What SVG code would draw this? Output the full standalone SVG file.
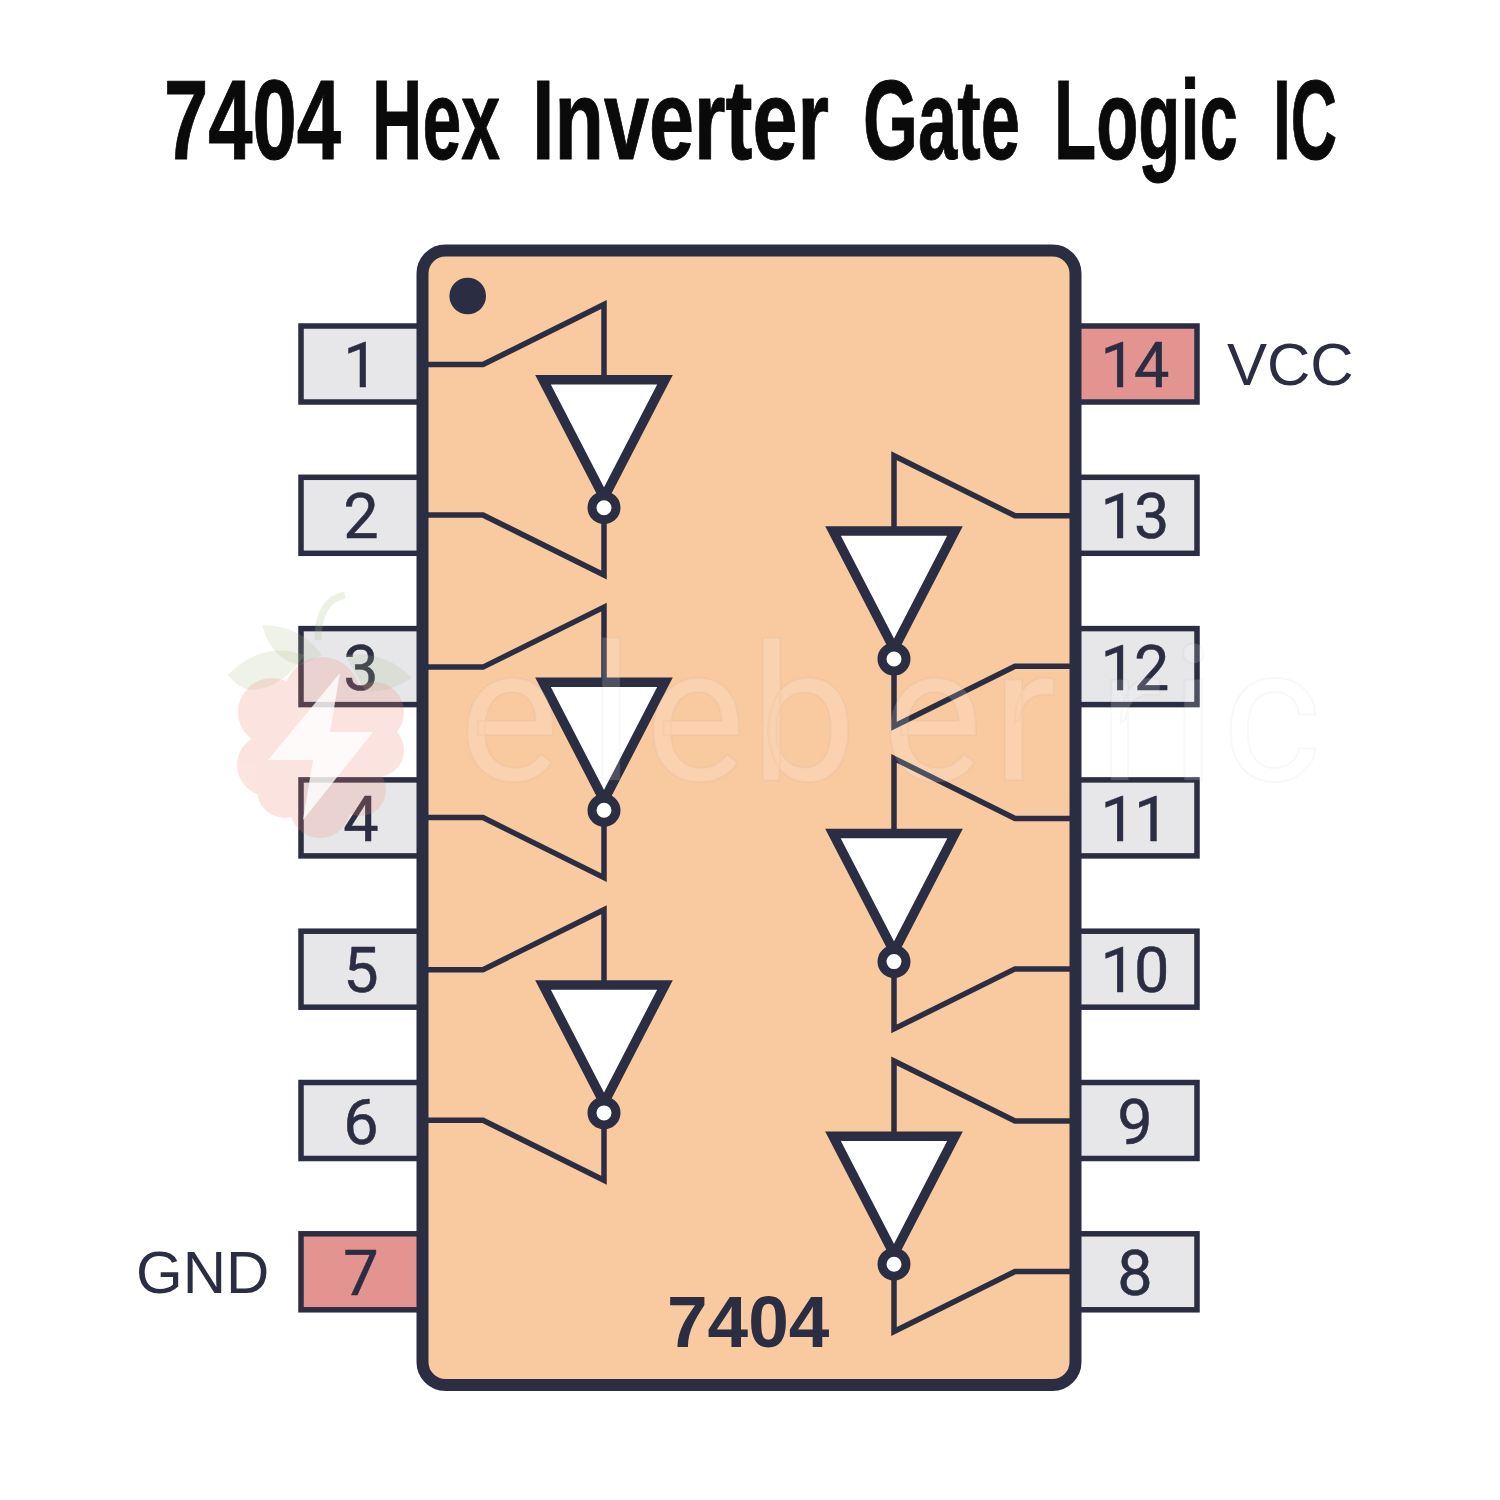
<svg xmlns="http://www.w3.org/2000/svg" width="1500" height="1500" viewBox="0 0 1500 1500">
<style>
.s{stroke:#2b2e42;stroke-width:5.5}
.pin{fill:#e7e7ea}
.pwr{fill:#e49490}
.n{font-family:Roboto,"Liberation Sans",Arial,sans-serif;font-size:63px;fill:#2b2e42;stroke:#2b2e42;stroke-width:.5;text-anchor:middle}
.w{letter-spacing:-2px}
.l{font-family:"Liberation Sans",Arial,sans-serif;font-size:60px;fill:#2b2e42}
.wire{fill:none;stroke:#2b2e42;stroke-width:5.5;stroke-linejoin:miter;stroke-miterlimit:8}
.wm{font-family:Roboto,"Liberation Sans",Arial,sans-serif;font-weight:400;font-size:190px;fill:#fff;fill-opacity:.17;stroke:#8a8a8a;stroke-opacity:.06;stroke-width:2}
</style>
<defs>
<g id="inv">
<polygon points="-61,0 61,0 0,118" fill="#fff" stroke="#2b2e42" stroke-width="9.5" stroke-miterlimit="6"/>
<circle cx="0" cy="128" r="12" fill="#fff" stroke="#2b2e42" stroke-width="9"/>
</g>
</defs>
<rect width="1500" height="1500" fill="#fff"/>
<text id="title" y="159" font-family="'Liberation Sans',Arial,sans-serif" font-weight="700" font-size="114" fill="#0a0a0a" stroke="#0a0a0a" stroke-width="1" stroke-linejoin="round"><tspan x="164" textLength="177" lengthAdjust="spacingAndGlyphs">7404</tspan> <tspan x="372" textLength="128" lengthAdjust="spacingAndGlyphs">Hex</tspan> <tspan x="532" textLength="297" lengthAdjust="spacingAndGlyphs">Inverter</tspan> <tspan x="863" textLength="157" lengthAdjust="spacingAndGlyphs">Gate</tspan> <tspan x="1054" textLength="184" lengthAdjust="spacingAndGlyphs">Logic</tspan> <tspan x="1273" textLength="64" lengthAdjust="spacingAndGlyphs">IC</tspan></text>

<g id="pin1"><rect class="s pin" x="301" y="326" width="120" height="76"/><text class="n" x="361" y="387">1</text></g>
<g id="pin2"><rect class="s pin" x="301" y="477.3" width="120" height="76"/><text class="n" x="361" y="538.3">2</text></g>
<g id="pin3"><rect class="s pin" x="301" y="628.6" width="120" height="76"/><text class="n" x="361" y="689.6">3</text></g>
<g id="pin4"><rect class="s pin" x="301" y="779.9" width="120" height="76"/><text class="n" x="361" y="840.9">4</text></g>
<g id="pin5"><rect class="s pin" x="301" y="931.2" width="120" height="76"/><text class="n" x="361" y="992.2">5</text></g>
<g id="pin6"><rect class="s pin" x="301" y="1082.5" width="120" height="76"/><text class="n" x="361" y="1143.5">6</text></g>
<g id="pin7"><rect class="s pwr" x="301" y="1233.8" width="120" height="76"/><text class="n" x="361" y="1294.8">7</text></g>
<g id="pin14"><rect class="s pwr" x="1078" y="326" width="119" height="76"/><text class="n w" x="1134" y="387">14</text></g>
<g id="pin13"><rect class="s pin" x="1078" y="477.3" width="119" height="76"/><text class="n w" x="1134" y="538.3">13</text></g>
<g id="pin12"><rect class="s pin" x="1078" y="628.6" width="119" height="76"/><text class="n w" x="1134" y="689.6">12</text></g>
<g id="pin11"><rect class="s pin" x="1078" y="779.9" width="119" height="76"/><text class="n w" x="1134" y="840.9">11</text></g>
<g id="pin10"><rect class="s pin" x="1078" y="931.2" width="119" height="76"/><text class="n w" x="1134" y="992.2">10</text></g>
<g id="pin9"><rect class="s pin" x="1078" y="1082.5" width="119" height="76"/><text class="n" x="1135" y="1143.5">9</text></g>
<g id="pin8"><rect class="s pin" x="1078" y="1233.8" width="119" height="76"/><text class="n" x="1135" y="1294.8">8</text></g>

<g id="chip">
<rect x="422.5" y="250.5" width="653" height="1134.5" rx="23" ry="23" fill="#f9c9a0" stroke="#2b2e42" stroke-width="12"/>
<circle cx="467.7" cy="296" r="18.3" fill="#2b2e42"/>
<text x="667" y="1347" font-family="'Liberation Sans',Arial,sans-serif" font-weight="700" font-size="73" fill="#2b2e42">7404</text>
</g>
<text id="vcc" class="l" x="1227" y="385">VCC</text>
<text id="gnd" class="l" x="136" y="1293">GND</text>

<g id="connectors">
<polyline class="wire" points="428,364.5 483,364.5 604,304.5 604,377"/>
<polyline class="wire" points="428,515 483,515 604,575 604,520"/>
<polyline class="wire" points="428,667.1 483,667.1 604,607.1 604,679.6"/>
<polyline class="wire" points="428,817.6 483,817.6 604,877.6 604,822.6"/>
<polyline class="wire" points="428,969.7 483,969.7 604,909.7 604,982.2"/>
<polyline class="wire" points="428,1120.2 483,1120.2 604,1180.2 604,1125.2"/>
<polyline class="wire" points="1070,515.8 1015,515.8 894,455.8 894,528.3"/>
<polyline class="wire" points="1070,666.3 1015,666.3 894,726.3 894,671.3"/>
<polyline class="wire" points="1070,818.4 1015,818.4 894,758.4 894,830.9"/>
<polyline class="wire" points="1070,968.9 1015,968.9 894,1028.9 894,973.9"/>
<polyline class="wire" points="1070,1121 1015,1121 894,1061 894,1133.5"/>
<polyline class="wire" points="1070,1271.5 1015,1271.5 894,1331.5 894,1276.5"/>
</g>

<g id="gate1"><use href="#inv" transform="translate(604,379.7)"/></g>
<g id="gate2"><use href="#inv" transform="translate(604,682.3)"/></g>
<g id="gate3"><use href="#inv" transform="translate(604,984.9)"/></g>
<g id="gate4"><use href="#inv" transform="translate(894,531)"/></g>
<g id="gate5"><use href="#inv" transform="translate(894,833.6)"/></g>
<g id="gate6"><use href="#inv" transform="translate(894,1136.2)"/></g>

<g id="watermark">
<g fill="#a9bd8e" fill-opacity=".2">
<path d="M228,675 Q262,640 305,655 Q280,690 250,690 Q238,688 228,675Z"/>
<path d="M262,625 Q300,625 322,655 L300,665 Q272,660 262,625Z"/>
<path d="M345,655 Q385,650 412,678 Q385,695 365,690Z"/>
</g>
<path d="M318,640 Q318,600 345,595" fill="none" stroke="#a9bd8e" stroke-opacity=".22" stroke-width="7"/>
<g fill="#f08a78" opacity=".22">
<circle cx="322" cy="695" r="38"/><circle cx="272" cy="712" r="34"/><circle cx="374" cy="712" r="30"/>
<circle cx="268" cy="765" r="31"/><circle cx="322" cy="750" r="42"/><circle cx="377" cy="750" r="27"/>
<circle cx="285" cy="790" r="28"/><circle cx="360" cy="790" r="26"/><circle cx="320" cy="808" r="30"/>
</g>
<polygon points="340,673 268,760 313,760 303,820 373,732 330,732" fill="#fff" fill-opacity=".8"/>
<text class="wm" y="780" x="459 588 645 750 882 992 1098 1170 1222">eleberric</text>
</g>
</svg>
